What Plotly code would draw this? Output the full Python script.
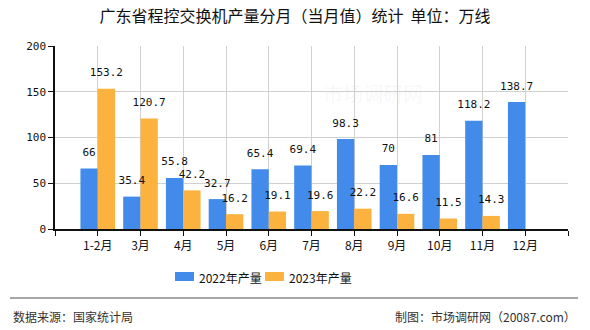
import plotly.graph_objects as go

# Monthly output of program-controlled switches in Guangdong (10k lines)
months = ["1-2月", "3月", "4月", "5月", "6月", "7月", "8月", "9月", "10月", "11月", "12月"]
output_2022 = [66, 35.4, 55.8, 32.7, 65.4, 69.4, 98.3, 70, 81, 118.2, 138.7]
output_2023 = [153.2, 120.7, 42.2, 16.2, 19.1, 19.6, 22.2, 16.6, 11.5, 14.3, None]
series_names = ["2022年产量", "2023年产量"]
y_ticks = [0, 50, 100, 150, 200]

BLUE = "#428BEA"
ORANGE = "#FBB23F"
FONT = "Noto Sans CJK SC"
NUM_FONT = "DejaVu Sans Mono"
BARGAP = 0.19


def fmt(v):
    return "" if v is None else f"{v:g}"


x_idx = list(range(len(months)))
half = (1 - BARGAP) / 4  # centre offset of each bar within a group

fig = go.Figure()
series = [(series_names[0], output_2022, BLUE, -half),
          (series_names[1], output_2023, ORANGE, half)]
for name, vals, color, _ in series:
    fig.add_trace(go.Bar(
        x=x_idx, y=vals, name=name, marker=dict(color=color, line=dict(width=0)),
        showlegend=False, hoverinfo="y",
    ))
# Value labels on top of everything so neighbouring bars never hide them
for name, vals, color, off in series:
    xs = [i + off for i, v in zip(x_idx, vals) if v is not None]
    ys = [v for v in vals if v is not None]
    fig.add_trace(go.Scatter(
        x=xs, y=ys, mode="markers+text", text=[fmt(v) for v in ys],
        textposition="top center", marker=dict(size=14, opacity=0),
        textfont=dict(family=NUM_FONT, size=11, color="#111"),
        cliponaxis=False, showlegend=False, hoverinfo="skip",
    ))

fig.update_layout(
    width=590, height=330,
    margin=dict(l=55, r=22, t=46, b=101),
    paper_bgcolor="white", plot_bgcolor="white",
    barmode="group", bargap=BARGAP, bargroupgap=0,
    title=dict(text="广东省程控交换机产量分月（当月值）统计  单位：万线",
               x=0.5, xanchor="center", y=0.95, yanchor="middle",
               font=dict(family=FONT, size=16, color="#111")),
    font=dict(family=FONT, size=12, color="#111"),
)

fig.update_xaxes(
    range=[-1, len(months)],
    tickvals=list(range(-1, len(months) + 1)),
    ticktext=[""] + months + [""],
    showgrid=True, gridcolor="#D0D0D0", gridwidth=1,
    showline=True, linecolor="#111", linewidth=1.5,
    ticks="outside", ticklen=5, tickcolor="#111",
    tickfont=dict(family=FONT, size=12, color="#111"),
    zeroline=False,
)
fig.update_yaxes(
    range=[0, 200], tickvals=y_ticks,
    showgrid=True, gridcolor="#D0D0D0", gridwidth=1,
    showline=True, linecolor="#111", linewidth=1.5,
    ticks="outside", ticklen=5, tickcolor="#111",
    tickfont=dict(family=NUM_FONT, size=11, color="#111"),
    zeroline=False,
)

# Faint watermark
fig.add_annotation(text="市场调研网", xref="paper", yref="paper", x=0.62, y=0.83,
                   showarrow=False, font=dict(family=FONT, size=20, color="rgba(200,200,200,0.15)"))

# Legend drawn as swatches + labels
legend_items = [(series_names[0], BLUE, 175), (series_names[1], ORANGE, 265)]
for name, color, px in legend_items:
    x0 = (px - 55) / 513
    x1 = (px + 19 - 55) / 513
    fig.add_shape(type="rect", xref="paper", yref="paper",
                  x0=x0, x1=x1, y0=(229 - 281) / 183, y1=(229 - 272) / 183,
                  fillcolor=color, line=dict(width=0))
    fig.add_annotation(text=name, xref="paper", yref="paper",
                       x=(px + 22 - 55) / 513, y=(229 - 277) / 183,
                       xanchor="left", yanchor="middle", showarrow=False,
                       font=dict(family=FONT, size=12, color="#111"))

# Footer rule and source lines
fig.add_shape(type="line", xref="paper", yref="paper",
              x0=(10 - 55) / 513, x1=(578 - 55) / 513,
              y0=(229 - 298) / 183, y1=(229 - 298) / 183,
              line=dict(color="#888", width=1.5))
fig.add_annotation(text="数据来源：国家统计局", xref="paper", yref="paper",
                   x=(11 - 55) / 513, y=(229 - 316) / 183, xanchor="left", yanchor="middle",
                   showarrow=False, font=dict(family=FONT, size=12, color="#333"))
fig.add_annotation(text="制图：市场调研网（20087.com）", xref="paper", yref="paper",
                   x=(578 - 55) / 513, y=(229 - 316) / 183, xanchor="right", yanchor="middle",
                   showarrow=False, font=dict(family=FONT, size=12, color="#333"))

fig.write_html("out.html")
